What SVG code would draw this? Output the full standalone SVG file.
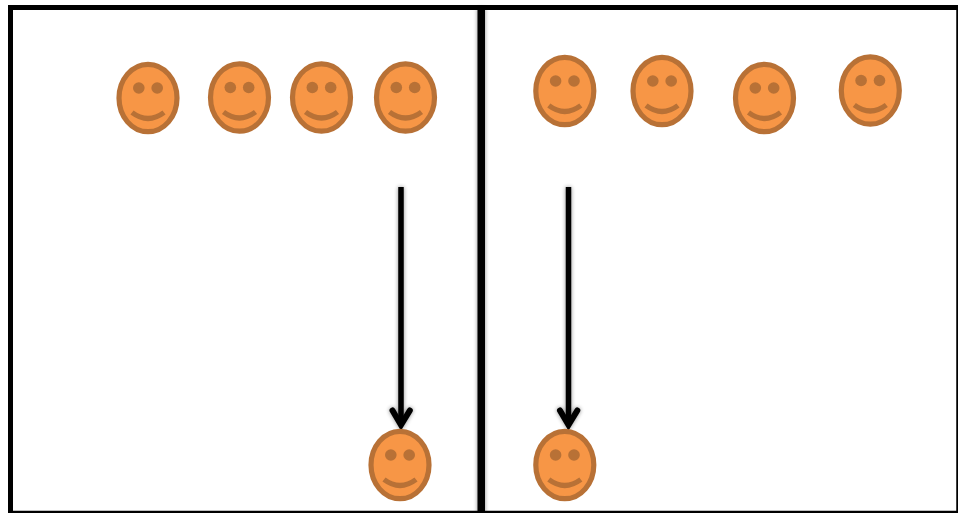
<svg xmlns="http://www.w3.org/2000/svg" width="958" height="513" viewBox="0 0 958 513">
<style>
.frame{fill:none;stroke:#000}
.conn{fill:none;stroke:#000;stroke-width:5.5}
.head{fill:none;stroke:#000;stroke-width:6;stroke-linecap:round;stroke-linejoin:miter}
.face{fill:#f79646;stroke:#b87136;stroke-width:5.2}
.eye{fill:#b87136}
.smile{fill:none;stroke:#b87136;stroke-width:5.2}
</style>
<defs>
<filter id="sh" x="-100%" y="-10%" width="300%" height="120%"><feGaussianBlur in="SourceAlpha" stdDeviation="2.2" result="b"/><feComponentTransfer in="b" result="c"><feFuncA type="linear" slope="0.45"/></feComponentTransfer><feMerge><feMergeNode in="c"/><feMergeNode in="SourceGraphic"/></feMerge></filter>
<g id="smiley">
<ellipse class="face" cx="0" cy="0" rx="29" ry="33.7"/>
<circle class="eye" cx="-9.2" cy="-10" r="5.8"/>
<circle class="eye" cx="9.2" cy="-10" r="5.8"/>
<path class="smile" d="M-16 14.5Q0 26.5 16 14.5"/>
</g>
</defs>
<rect width="958" height="513" fill="#fff"/>
<g id="frame">
<rect x="477.5" y="8" width="7.5" height="505" fill="#000" filter="url(#sh)"/>
<path class="frame" style="stroke-width:5" d="M10.5 513V7.5H958"/>
<path class="frame" style="stroke-width:2.5" d="M957.5 7.5V512H10"/>
</g>
<g id="connectors">
<g filter="url(#sh)">
<path class="conn" d="M401 187V424"/>
<path class="head" d="M392.5 410.5L401 425L409.8 410.5"/>
</g>
<g filter="url(#sh)">
<path class="conn" d="M568.5 187V424"/>
<path class="head" d="M560 410.5L568.5 425L577.3 410.5"/>
</g>
</g>
<g id="node-l1"><use href="#smiley" x="148" y="98"/></g>
<g id="node-l2"><use href="#smiley" x="239.5" y="97.5"/></g>
<g id="node-l3"><use href="#smiley" x="321.5" y="97.5"/></g>
<g id="node-l4"><use href="#smiley" x="405.5" y="97.5"/></g>
<g id="node-r1"><use href="#smiley" x="564.8" y="91"/></g>
<g id="node-r2"><use href="#smiley" x="662" y="91"/></g>
<g id="node-r3"><use href="#smiley" x="764.5" y="98"/></g>
<g id="node-r4"><use href="#smiley" x="870.3" y="90.5"/></g>
<g id="node-l5"><use href="#smiley" x="400" y="465"/></g>
<g id="node-r5"><use href="#smiley" x="564.8" y="465"/></g>
</svg>
